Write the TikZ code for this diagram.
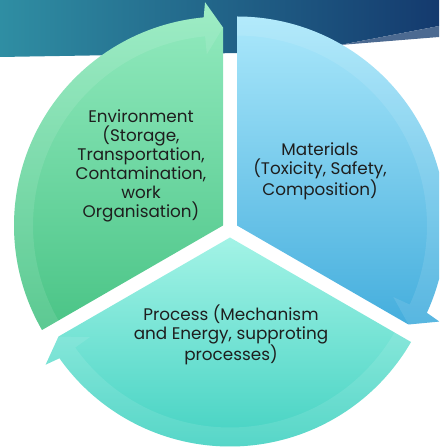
\documentclass[tikz,border=0pt]{standalone}
\usepackage{fontspec}
\setmainfont{Poppins}
\usetikzlibrary{positioning}
\definecolor{bannerL}{HTML}{2F8EA3}
\definecolor{bannerR}{HTML}{143A6E}
\definecolor{bannerStrip}{HTML}{4C6A91}
\definecolor{envTop}{HTML}{94EBC0}
\definecolor{envMid}{HTML}{7EDDAE}
\definecolor{envBot}{HTML}{4AC486}
\definecolor{matTop}{HTML}{ABE8FB}
\definecolor{matMid}{HTML}{8ED6F4}
\definecolor{matBot}{HTML}{45AEDD}
\definecolor{procTop}{HTML}{A3F3E6}
\definecolor{procMid}{HTML}{80E6D8}
\definecolor{procBot}{HTML}{44D2C2}
\definecolor{labelInk}{HTML}{1E1E1E}

\begin{document}
\begin{tikzpicture}[x=1pt, y=1pt,
  seglabel/.style={font=\fontsize{16.8}{19}\selectfont, align=center, text=labelInk, inner sep=0pt},
  rim/.style={fill=white, fill opacity=0.1}]
\useasboundingbox (0,0) rectangle (439,447);
\clip (0,0) rectangle (439,447);
% banner
\shade[left color=bannerL, right color=bannerR] (0,447) -- (439,447) -- (439,421) -- (340,402) -- (240,394) -- (0,390) -- cycle;
\fill[bannerStrip] (340,402) -- (439,421) -- (439,410) -- cycle;
% environment segment
\begin{scope}[shift={(223,221.5)}]
\shade[top color=envTop, middle color=envMid, bottom color=envBot] (0,0) -- (210:209) arc[start angle=210, end angle=95.3, radius=209] -- (94.6:224) -- (90:198) -- cycle;
\fill[rim] (210:209) arc[start angle=210, end angle=95.3, radius=209] -- (94.6:224) -- (90:198) -- (95.4:172) -- (95.4:190) arc[start angle=95.4, end angle=210, radius=190] -- cycle;
\end{scope}
% materials segment
\begin{scope}[shift={(237,221.5)}]
\shade[top color=matTop, middle color=matMid, bottom color=matBot] (0,0) -- (90:209) arc[start angle=90, end angle=-24.7, radius=209] -- (-25.4:224) -- (-30:198) -- cycle;
\fill[rim] (90:209) arc[start angle=90, end angle=-24.7, radius=209] -- (-25.4:224) -- (-30:198) -- (-24.6:172) -- (-24.6:190) arc[start angle=-24.6, end angle=90, radius=190] -- cycle;
\end{scope}
% process segment
\begin{scope}[shift={(230,209.5)}]
\shade[top color=procTop, middle color=procMid, bottom color=procBot] (0,0) -- (-30:209) arc[start angle=-30, end angle=-144.7, radius=209] -- (-145.4:224) -- (-150:198) -- cycle;
\fill[rim] (-30:209) arc[start angle=-30, end angle=-144.7, radius=209] -- (-145.4:224) -- (-150:198) -- (-144.6:172) -- (-144.6:190) arc[start angle=-144.6, end angle=-30, radius=190] -- cycle;
\end{scope}
% labels
\node (env) [seglabel] at (141,281) {Environment\\(Storage,\\Transportation,\\Contamination,\\work\\Organisation)};
\node (mat) [seglabel] at (320,276) {Materials\\(Toxicity, Safety,\\Composition)};
\node (proc) [seglabel] at (231,112) {Process (Mechanism\\and Energy, supproting\\processes)};
\end{tikzpicture}
\end{document}
